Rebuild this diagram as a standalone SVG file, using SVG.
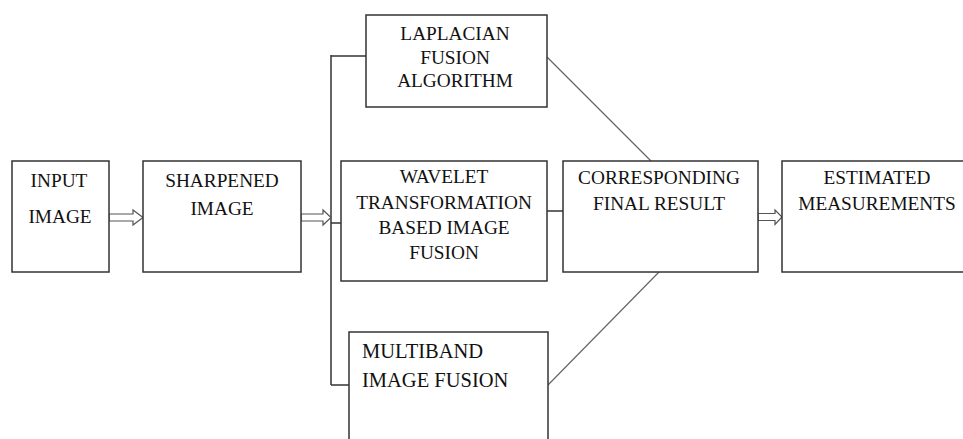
<svg xmlns="http://www.w3.org/2000/svg" width="963" height="439" viewBox="0 0 963 439">
<defs>
<style>
.box{fill:#fff;stroke:#333;stroke-width:1.5}
.t{font-family:'Liberation Serif','Times New Roman','DejaVu Serif',serif;font-size:19.3px;fill:#111;text-anchor:middle}
.l{text-anchor:start;font-size:20.5px}
.ln{fill:none;stroke:#333;stroke-width:1.5}
.dg{fill:none;stroke:#666;stroke-width:1.2}
.ar{fill:#fff;stroke:#555;stroke-width:1.2}
</style>
</defs>
<rect width="963" height="439" fill="#fff"/>
<g id="connectors">
<path class="ln" d="M331,55 V385"/>
<path class="ln" d="M331,56 H366"/>
<path class="ln" d="M331,223 H341"/>
<path class="ln" d="M331,385 H349"/>
<path class="ln" d="M547,211 H564"/>
<path class="dg" d="M547,57 L651,161"/>
<path class="dg" d="M548,385 L659,272"/>
<path class="ar" d="M109,214 H133 V210 L143,217.5 L133,225 V221 H109 Z"/>
<path class="ar" d="M301,214 H323 V210 L331,217.5 L323,225 V221 H301 Z"/>
<path class="ar" d="M758,213.5 H775 V210 L782,217 L775,224.5 V220.5 H758 Z"/>
</g>
<g id="input">
<rect class="box" x="12" y="161" width="97" height="111"/>
<text class="t" x="59" y="187">INPUT</text>
<text class="t" x="60" y="223">IMAGE</text>
</g>
<g id="sharpened">
<rect class="box" x="143" y="161" width="158" height="111"/>
<text class="t" x="222" y="187">SHARPENED</text>
<text class="t" x="222" y="215">IMAGE</text>
</g>
<g id="laplacian">
<rect class="box" x="366" y="15" width="181" height="92"/>
<text class="t" x="455" y="40">LAPLACIAN</text>
<text class="t" x="455" y="64">FUSION</text>
<text class="t" x="455" y="87">ALGORITHM</text>
</g>
<g id="wavelet">
<rect class="box" x="341" y="161" width="206" height="120"/>
<text class="t" x="444" y="183">WAVELET</text>
<text class="t" x="444" y="209">TRANSFORMATION</text>
<text class="t" x="444" y="234">BASED IMAGE</text>
<text class="t" x="444" y="259">FUSION</text>
</g>
<g id="multiband">
<rect class="box" x="349" y="332" width="199" height="120"/>
<text class="t l" x="362" y="358">MULTIBAND</text>
<text class="t l" x="362" y="387">IMAGE FUSION</text>
</g>
<g id="corresponding">
<rect class="box" x="563" y="161" width="195" height="111"/>
<text class="t" x="659" y="184">CORRESPONDING</text>
<text class="t" x="659" y="210">FINAL RESULT</text>
</g>
<g id="estimated">
<rect class="box" x="782" y="161" width="190" height="111"/>
<text class="t" x="877" y="184">ESTIMATED</text>
<text class="t" x="877" y="210">MEASUREMENTS</text>
</g>
</svg>
